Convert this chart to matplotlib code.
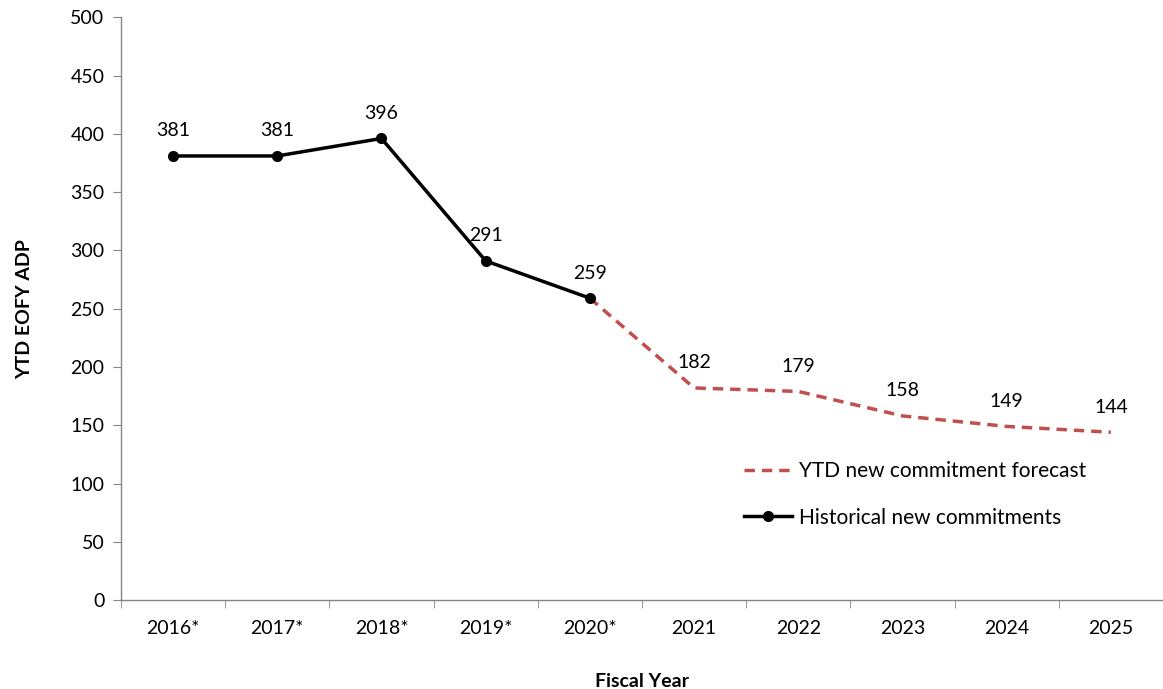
import matplotlib
matplotlib.use("Agg")
import matplotlib.pyplot as plt
import numpy as np

categories = ["2016*", "2017*", "2018*", "2019*", "2020*", "2021", "2022", "2023", "2024", "2025"]
historical = [381, 381, 396, 291, 259]
forecast = [259, 182, 179, 158, 149, 144]

plt.rcParams['font.family'] = ['Lato', 'DejaVu Sans']

fig = plt.figure(figsize=(11.63, 6.89), dpi=100)
ax = fig.add_axes([0.104, 0.129, 0.896, 0.846])

x = np.arange(len(categories))
hx = x[:len(historical)]
fx = x[len(historical) - 1:]

ax.plot(fx, forecast, color="#C0504D", linestyle=(0, (3, 2)), linewidth=2.5,
        label="YTD new commitment forecast", zorder=2)
ax.plot(hx, historical, color="black", linewidth=2.5, marker="o", markersize=7,
        label="Historical new commitments", zorder=3)

for xi, v in zip(hx, historical):
    ax.annotate(str(v), (xi, v), textcoords="offset points", xytext=(0, 12),
                ha="center", va="bottom", fontsize=14)
for xi, v in zip(fx[1:], forecast[1:]):
    ax.annotate(str(v), (xi, v), textcoords="offset points", xytext=(0, 12),
                ha="center", va="bottom", fontsize=14)

ax.set_xlim(-0.5, len(categories) - 0.5)
ax.set_ylim(0, 500)
ax.set_yticks(np.arange(0, 501, 50))
ax.set_xticks(x)
ax.set_xticklabels(categories, fontsize=14)
ax.set_xticks(np.arange(-0.5, len(categories), 1), minor=True)
ax.tick_params(axis="x", which="major", length=0, pad=14)
ax.tick_params(axis="x", which="minor", length=6, color="#868686", direction="out")
ax.tick_params(axis="y", labelsize=14, length=6, color="#868686", direction="out", pad=6)

for s in ["top", "right"]:
    ax.spines[s].set_visible(False)
for s in ["left", "bottom"]:
    ax.spines[s].set_color("#868686")
    ax.spines[s].set_linewidth(1)

ax.set_xlabel("Fiscal Year", fontsize=14, fontweight="bold", labelpad=26)
ax.set_ylabel("YTD EOFY ADP", fontsize=14, fontweight="bold", labelpad=27)

ax.legend(loc="upper left", bbox_to_anchor=(0.58, 0.27), frameon=False, fontsize=15,
          handlelength=2.3, handletextpad=0.35, labelspacing=1.25)

fig.savefig("out.png", dpi=100)
